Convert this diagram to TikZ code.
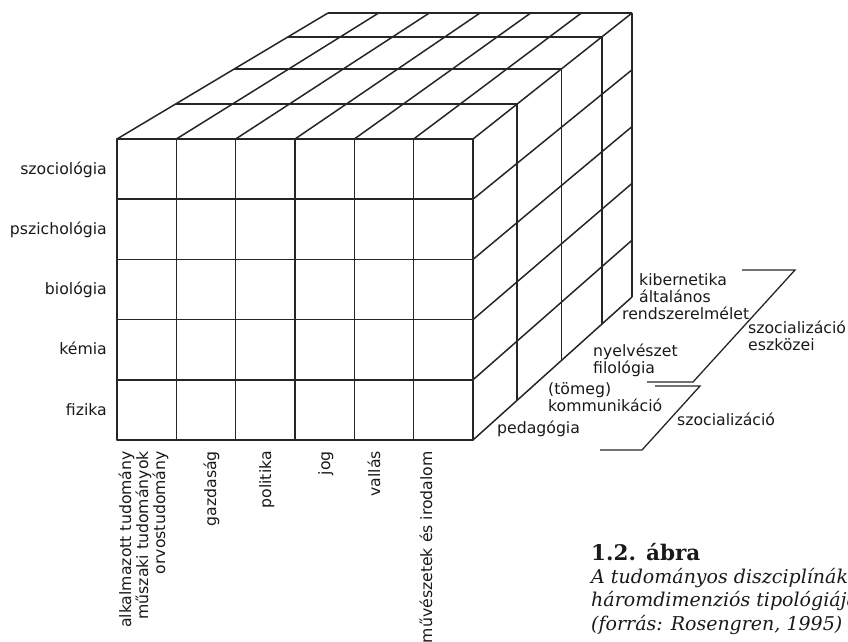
\documentclass[tikz,border=0pt]{standalone}
\usepackage{fontspec}
\setmainfont{DejaVu Sans}
\newfontfamily\capfont{DejaVu Serif}
\usetikzlibrary{calc}

\tikzset{
	cubeline/.style={line width=1.5pt, black!85, line join=round},
	bracket/.style={line width=1.3pt, black!85},
	lab/.style={inner sep=0pt, text=black!90, font=\fontsize{15.7}{17}\selectfont},
	collab/.style={lab, rotate=90, anchor=base east, align=right},
}

\begin{document}
\begin{tikzpicture}[x=1pt,y=-1pt]
	\useasboundingbox (0,0) rectangle (848,642);

	% corners of the cube
	\coordinate (ftl) at (117,139);
	\coordinate (ftr) at (473,139);
	\coordinate (fbl) at (117,440);
	\coordinate (fbr) at (473,440);
	\coordinate (btl) at (328,13);
	\coordinate (btr) at (632,13);
	\coordinate (bbr) at (632,297);

	% front face
	\draw[cubeline] (ftl) rectangle (fbr);
	\foreach \i in {1,...,5} \draw[cubeline] ($(ftl)!\i/6!(ftr)$) -- ($(fbl)!\i/6!(fbr)$);
	\foreach \j in {1,...,4} \draw[cubeline] ($(ftl)!\j/5!(fbl)$) -- ($(ftr)!\j/5!(fbr)$);

	% top face
	\foreach \i in {0,...,6} \draw[cubeline] ($(ftl)!\i/6!(ftr)$) -- ($(btl)!\i/6!(btr)$);
	\foreach \t in {0.278,0.556,0.81,1} \draw[cubeline] ($(ftl)!\t!(btl)$) -- ($(ftr)!\t!(btr)$);

	% right face
	\foreach \t in {0.278,0.556,0.81,1} \draw[cubeline] ($(ftr)!\t!(btr)$) -- ($(fbr)!\t!(bbr)$);
	\foreach \j in {1,...,5} \draw[cubeline] ($(ftr)!\j/5!(fbr)$) -- ($(btr)!\j/5!(bbr)$);

	% rows
	\foreach \lab [count=\j] in {szociológia,pszichológia,biológia,kémia,fizika}
		\node[lab, anchor=base east] (row\j) at (107,{139+60.2*\j-25}) {\lab};

	% columns (base = last line)
	\node[collab] (col1) at (165,451) {alkalmazott tudomány\\műszaki tudományok\\orvostudomány};
	\node[collab] (col2) at (216,451) {gazdaság};
	\node[collab] (col3) at (271,451) {politika};
	\node[collab] (col4) at (330,451) {jog};
	\node[collab] (col5) at (380,451) {vallás};
	\node[collab] (col6) at (432,451) {művészetek és irodalom};

	% depth
	\node[lab, anchor=base west] (ped) at (497,433) {pedagógia};
	\node[lab, anchor=base west, align=left] (komm) at (548,411) {(tömeg)\\kommunikáció};
	\node[lab, anchor=base west, align=left] (nyelv) at (593,373) {nyelvészet\\filológia};
	\node[lab, anchor=base west, align=left] (kib) at (622,319) {\hspace*{17pt}kibernetika\\\hspace*{17pt}általános\\rendszerelmélet};

	\draw[bracket] (742,270) -- (795,270) -- (693,382) -- (647,382);
	\draw[bracket] (655,386) -- (700,386) -- (642,450) -- (600,450);
	\node[lab, anchor=base west, align=left] (eszk) at (748,350) {szocializáció\\eszközei};
	\node[lab, anchor=base west] (szoc) at (677,425) {szocializáció};

	% caption
	\node[anchor=base west, inner sep=0pt, text=black!90, font=\capfont\bfseries\fontsize{21.5}{24}\selectfont] (fig) at (591,560) {1.2. ábra};
	\node[anchor=base west, inner sep=0pt, text=black!90, align=left, font=\capfont\itshape\fontsize{19}{23.5}\selectfont] (cap) at (591,630) {A tudományos diszciplínák\\háromdimenziós tipológiája\\(forrás: Rosengren, 1995)};
\end{tikzpicture}
\end{document}
